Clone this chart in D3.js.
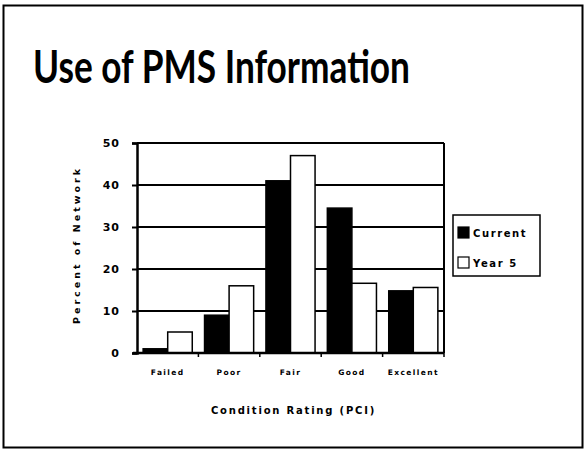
<!DOCTYPE html>
<html>
<head>
<meta charset="utf-8">
<script src="https://cdn.jsdelivr.net/npm/d3@7"></script>
<style>
  body { margin: 0; background: #fff; }
  text { font-family: "DejaVu Sans", sans-serif; fill: #000; }
</style>
</head>
<body>
<div id="chart-area"></div>
<script>
// Data
const categories = ['Failed', 'Poor', 'Fair', 'Good', 'Excellent'];
const seriesNames = ['Current', 'Year 5'];
const current = [1, 9, 41, 34.5, 14.8];
const year5 = [5, 16, 47, 16.6, 15.6];
const yTicks = [0, 10, 20, 30, 40, 50];

// Margin
const margin = { left: 137, right: 143, top: 143, bottom: 98 };
const W = 587, H = 451;
const width = W - margin.left - margin.right;
const height = H - margin.top - margin.bottom;

const svg = d3.select('#chart-area')
  .append('svg')
    .attr('width', W)
    .attr('height', H);

// Slide frame
svg.append('rect')
  .attr('x', 3.5).attr('y', 5.5)
  .attr('width', 579).attr('height', 442)
  .attr('fill', 'none').attr('stroke', '#000').attr('stroke-width', 2);

// Title
svg.append('text')
  .attr('x', 33).attr('y', 83)
  .attr('font-size', '45px')
  .attr('font-weight', 'bold')
  .style('font-family', 'Lato, sans-serif')
  .attr('textLength', 377)
  .attr('lengthAdjust', 'spacingAndGlyphs')
  .text('Use of PMS Information');

const g = svg.append('g')
  .attr('transform', 'translate(' + margin.left + ', ' + margin.top + ')');

// Scales
const x = d3.scaleBand()
  .domain(categories)
  .range([0, width]);

const xInner = d3.scaleBand()
  .domain(seriesNames)
  .range([0, x.bandwidth()])
  .paddingOuter(0.25)
  .paddingInner(0);

const y = d3.scaleLinear()
  .domain([0, 50])
  .range([height, 0]);

// Gridlines
g.selectAll('.grid')
  .data(yTicks.filter(d => d > 0 && d < 50))
  .enter().append('line')
    .attr('x1', 0).attr('x2', width)
    .attr('y1', d => y(d)).attr('y2', d => y(d))
    .attr('stroke', '#000').attr('stroke-width', 2);

// Bars
const rows = categories.map((c, i) => ({ cat: c, vals: [current[i], year5[i]] }));
const groups = g.selectAll('.bar-group')
  .data(rows)
  .enter().append('g')
    .attr('transform', d => 'translate(' + x(d.cat) + ',0)');

groups.selectAll('rect')
  .data(d => d.vals.map((v, j) => ({ name: seriesNames[j], v: v })))
  .enter().append('rect')
    .attr('x', d => xInner(d.name))
    .attr('y', d => y(d.v))
    .attr('width', xInner.bandwidth())
    .attr('height', d => height - y(d.v))
    .attr('fill', d => d.name === 'Current' ? '#000' : '#fff')
    .attr('stroke', '#000')
    .attr('stroke-width', 1.5);

// Plot frame top/right
g.append('line').attr('x1', 0).attr('x2', width).attr('y1', 0).attr('y2', 0)
  .attr('stroke', '#000').attr('stroke-width', 2);
g.append('line').attr('x1', width).attr('x2', width).attr('y1', 0).attr('y2', height)
  .attr('stroke', '#000').attr('stroke-width', 2);

// Y Axis
const yAxis = d3.axisLeft(y).tickValues(yTicks).tickSize(5).tickPadding(12);
const yAxisGroup = g.append('g').call(yAxis);
yAxisGroup.select('.domain').attr('stroke-width', 2.5);
yAxisGroup.selectAll('.tick line').attr('stroke-width', 2);
yAxisGroup.selectAll('text')
  .attr('font-size', '11px')
  .attr('font-weight', 'bold')
  .attr('letter-spacing', '1px')
  .attr('font-family', '"DejaVu Sans", sans-serif');

// X Axis
const xAxis = d3.axisBottom(x).tickSize(0).tickPadding(17);
const xAxisGroup = g.append('g')
  .attr('transform', 'translate(0, ' + height + ')')
  .call(xAxis);
xAxisGroup.select('.domain').attr('stroke-width', 2.5).attr('d', 'M-4,0H' + width);
xAxisGroup.selectAll('text')
  .attr('font-size', '7.5px')
  .attr('font-weight', 'bold')
  .attr('letter-spacing', '1.4px')
  .attr('font-family', '"DejaVu Sans", sans-serif');

// Ticks at band boundaries
xAxisGroup.selectAll('.bound')
  .data(categories.slice(1).concat(['end']))
  .enter().append('line')
    .attr('x1', d => d === 'end' ? width : x(d))
    .attr('x2', d => d === 'end' ? width : x(d))
    .attr('y1', 0).attr('y2', 4)
    .attr('stroke', '#000').attr('stroke-width', 1.5);

// X Label
g.append('text')
  .attr('x', width / 2 + 3)
  .attr('y', height + 61)
  .attr('font-size', '10px')
  .attr('font-weight', 'bold')
  .attr('letter-spacing', '1.8px')
  .attr('text-anchor', 'middle')
  .text('Condition Rating (PCI)');

// Y Label
g.append('text')
  .attr('x', -(height / 2) + 3)
  .attr('y', -57)
  .attr('font-size', '9.5px')
  .attr('font-weight', 'bold')
  .attr('letter-spacing', '3px')
  .attr('text-anchor', 'middle')
  .attr('transform', 'rotate(-90)')
  .text('Percent of Network');

// Legend
const legend = svg.append('g').attr('transform', 'translate(453, 215)');
legend.append('rect')
  .attr('width', 87).attr('height', 61)
  .attr('fill', '#fff').attr('stroke', '#000').attr('stroke-width', 1.5);
const items = legend.selectAll('.item')
  .data(seriesNames)
  .enter().append('g')
    .attr('transform', (d, i) => 'translate(5, ' + (12 + i * 30) + ')');
items.append('rect')
  .attr('width', 11).attr('height', 11)
  .attr('fill', d => d === 'Current' ? '#000' : '#fff')
  .attr('stroke', '#000').attr('stroke-width', 1.2);
items.append('text')
  .attr('x', 15).attr('y', 10)
  .attr('font-size', '10px')
  .attr('font-weight', 'bold')
  .attr('letter-spacing', '1.6px')
  .text(d => d);
</script>
</body>
</html>
